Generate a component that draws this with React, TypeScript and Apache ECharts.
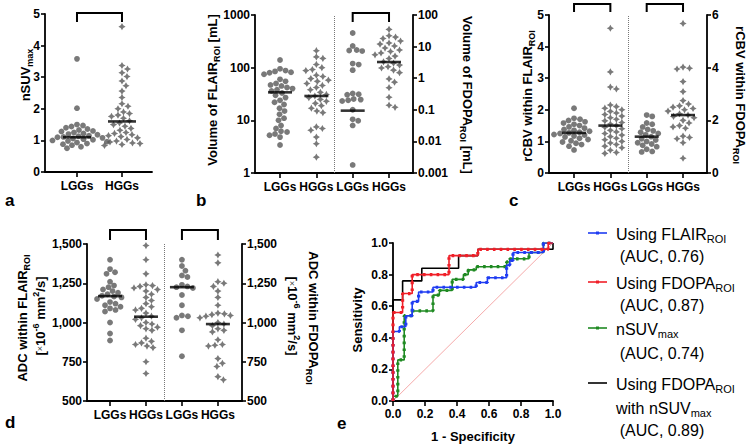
import React, { useEffect, useRef } from 'react';
import * as echarts from 'echarts';

const FONT = '"Liberation Sans", Arial, Helvetica, sans-serif';
const GRAY = '#585858';
const GROUPS = ['LGGs', 'HGGs'];

// Panel a: nSUVmax
const aLGG = [3.58, 2.02, 1.5, 1.47, 1.44, 1.4, 1.36, 1.33, 1.3, 1.28, 1.25, 1.22, 1.2, 1.18, 1.15, 1.13, 1.11, 1.1, 1.08, 1.06, 1.04, 1.02, 1.0, 0.98, 0.96, 0.93, 0.9, 0.88, 0.85, 0.8, 0.75];
const aHGG = [4.6, 3.37, 3.26, 3.14, 3.02, 2.88, 2.73, 2.56, 2.36, 2.16, 2.08, 2.0, 1.9, 1.85, 1.8, 1.76, 1.7, 1.62, 1.55, 1.5, 1.45, 1.38, 1.32, 1.25, 1.22, 1.18, 1.15, 1.12, 1.08, 1.03, 0.98, 0.95, 0.92, 0.9, 0.87, 0.84];
const aMedians = [1.1, 1.6];

// Panel b: volumes (FLAIR left axis, FDOPA right axis)
const bLGG1 = [140, 95, 88, 85, 82, 80, 75, 60, 55, 50, 47, 45, 42, 40, 38, 36, 33, 30, 27, 24, 22, 20, 17, 15, 13, 11, 10, 8, 7, 6.2, 6, 5.5, 5.2, 4.8, 3.4];
const bHGG1 = [210, 160, 150, 115, 100, 92, 88, 72, 68, 62, 58, 55, 50, 46, 42, 38, 34, 31, 29, 27, 25, 23, 21, 19, 17, 15, 14, 7.5, 7, 6.5, 4.8, 3.6, 2.0];
const bLGG2 = [27, 10.5, 7.8, 7.5, 7.2, 2.9, 2.7, 1.8, 0.33, 0.31, 0.3, 0.22, 0.21, 0.2, 0.19, 0.1, 0.05, 0.045, 0.032, 0.0018];
const bHGG2 = [35, 22, 20, 18, 15, 13, 12, 10.5, 9, 7.8, 7, 6.3, 5.5, 5, 4.2, 3.3, 3.0, 2.6, 2.3, 2.1, 1.8, 1.5, 0.95, 0.75, 0.5, 0.25, 0.14, 0.12];
const bMedians = [34, 29, 0.094, 3.25];

// Panel c: rCBV
const cLGG1 = [2.05, 1.73, 1.7, 1.66, 1.62, 1.58, 1.54, 1.5, 1.46, 1.42, 1.38, 1.35, 1.32, 1.29, 1.27, 1.25, 1.22, 1.2, 1.17, 1.14, 1.1, 1.06, 1.02, 0.98, 0.94, 0.9, 0.85, 0.73];
const cHGG1 = [4.58, 3.2, 2.72, 2.66, 2.15, 2.1, 2.05, 2.0, 1.95, 1.9, 1.85, 1.8, 1.75, 1.7, 1.65, 1.6, 1.55, 1.5, 1.45, 1.4, 1.35, 1.3, 1.25, 1.2, 1.15, 1.1, 1.05, 1.0, 0.95, 0.9, 0.85, 0.8, 0.72, 0.65, 0.62];
const cLGG2 = [2.2, 2.15, 1.9, 1.85, 1.75, 1.65, 1.6, 1.55, 1.5, 1.45, 1.38, 1.3, 1.25, 1.2, 1.15, 1.1, 1.05, 1.0, 0.9, 0.82, 0.8];
const cHGG2 = [5.68, 4.02, 3.98, 3.95, 3.47, 3.09, 2.75, 2.62, 2.55, 2.5, 2.45, 2.4, 2.35, 2.25, 2.2, 2.15, 2.1, 2.0, 1.9, 1.8, 1.75, 1.7, 1.4, 1.35, 1.3, 1.15, 0.56];
const cMedians = [1.27, 1.5, 1.38, 2.2];

// Panel d: ADC
const dLGG1 = [1400, 1340, 1320, 1310, 1260, 1235, 1225, 1210, 1200, 1190, 1180, 1170, 1165, 1160, 1150, 1130, 1120, 1110, 1100, 1090, 1080, 1070, 1000, 930, 885];
const dHGG1 = [1490, 1400, 1310, 1240, 1235, 1230, 1220, 1210, 1200, 1180, 1160, 1140, 1120, 1100, 1090, 1080, 1060, 1040, 1030, 1020, 1000, 990, 980, 970, 960, 950, 900, 880, 870, 860, 850, 840, 750, 675];
const dLGG2 = [1400, 1360, 1330, 1300, 1290, 1240, 1230, 1225, 1220, 1175, 1110, 1045, 1040, 1030, 950, 785];
const dHGG2 = [1430, 1380, 1260, 1250, 1230, 1200, 1160, 1110, 1060, 1055, 1050, 1045, 1040, 1030, 1000, 990, 980, 960, 950, 940, 890, 860, 855, 850, 770, 740, 720, 655, 635];
const dMedians = [1168, 1037, 1225, 990];

// Panel e: ROC curves [1 - specificity, sensitivity]
const rocFlair = [[0, 0], [0, 0.44], [0.04, 0.44], [0.04, 0.47], [0.08, 0.47], [0.08, 0.54], [0.12, 0.54], [0.12, 0.63], [0.16, 0.63], [0.16, 0.69], [0.25, 0.69], [0.25, 0.72], [0.52, 0.72], [0.52, 0.75], [0.59, 0.75], [0.59, 0.78], [0.71, 0.78], [0.71, 0.86], [0.73, 0.86], [0.73, 0.89], [0.75, 0.89], [0.75, 0.94], [0.94, 0.94], [0.94, 1], [1, 1]];
const rocFdopa = [[0, 0], [0, 0.56], [0.06, 0.56], [0.06, 0.68], [0.12, 0.68], [0.12, 0.8], [0.35, 0.8], [0.35, 0.92], [0.53, 0.92], [0.53, 0.96], [0.97, 0.96], [0.97, 1], [1, 1]];
const rocSuv = [[0, 0], [0, 0.03], [0.03, 0.03], [0.03, 0.26], [0.07, 0.26], [0.07, 0.54], [0.12, 0.54], [0.12, 0.57], [0.25, 0.57], [0.25, 0.67], [0.29, 0.67], [0.29, 0.7], [0.37, 0.7], [0.37, 0.77], [0.44, 0.77], [0.44, 0.8], [0.47, 0.8], [0.47, 0.83], [0.52, 0.83], [0.52, 0.85], [0.71, 0.85], [0.71, 0.88], [0.73, 0.88], [0.73, 0.9], [0.85, 0.9], [0.85, 0.94], [0.94, 0.94], [0.94, 1], [1, 1]];
const rocCombined = [[0, 0], [0, 0.64], [0.06, 0.64], [0.06, 0.76], [0.18, 0.76], [0.18, 0.84], [0.41, 0.84], [0.41, 0.92], [0.53, 0.92], [0.53, 0.96], [1, 0.96], [1, 1]];
const rocChance = [[0, 0], [1, 1]];

const BLUE = '#1f3cf2';
const RED = '#f01f28';
const GREEN = '#1f8a22';

const STAR = 'path://M0,-10L3.6,-3.6L10,0L3.6,3.6L0,10L-3.6,3.6L-10,0L-3.6,-3.6Z';

// beeswarm layout: offsets (category units) so that markers don't overlap
function swarm(values: number[], toPx: (v: number) => number, pxPerCat: number, d: number): number[] {
  const order = values.map((_, i) => i).sort((p, q) => values[q] - values[p]);
  const placed: { x: number; y: number }[] = [];
  const off = new Array(values.length).fill(0);
  for (const i of order) {
    const y = toPx(values[i]);
    let best = 0;
    for (let k = 0; k < 400; k++) {
      const cand = (k % 2 === 1 ? 1 : -1) * Math.ceil(k / 2) * 0.5;
      if (placed.every((p) => (p.x - cand) ** 2 + (p.y - y) ** 2 >= d * d)) {
        best = cand;
        break;
      }
    }
    placed.push({ x: best, y });
    off[i] = best / pxPerCat;
  }
  return off;
}

const lin = (ppu: number) => (v: number) => v * ppu;
const logs = (ppd: number) => (v: number) => Math.log10(v) * ppd;

function dots(values: number[], cat: number, xi: number, yi: number, toPx: (v: number) => number, ppc: number, circle: boolean) {
  const off = swarm(values, toPx, ppc, circle ? 5.6 : 6.2);
  return {
    type: 'scatter', xAxisIndex: xi, yAxisIndex: yi, silent: true, z: 2,
    symbol: circle ? 'circle' : STAR, symbolSize: circle ? 5.8 : 7.2,
    itemStyle: { color: GRAY },
    data: values.map((v, i) => [cat + off[i], v]),
  };
}

function median(cat: number, m: number, xi: number, yi: number, w: number) {
  return {
    type: 'scatter', xAxisIndex: xi, yAxisIndex: yi, silent: true, z: 5,
    symbol: 'rect', symbolSize: [w, 2.6], itemStyle: { color: '#000' },
    data: [[cat, m]],
  };
}

function sep(xi: number, yi: number) {
  return {
    type: 'line', xAxisIndex: xi, yAxisIndex: yi, data: [], silent: true,
    markLine: {
      silent: true, symbol: 'none', label: { show: false },
      lineStyle: { type: 'dotted', color: '#777', width: 1 },
      data: [{ xAxis: 1.5 }],
    },
  };
}

const axisLineStyle = { show: true, onZero: false, lineStyle: { color: '#000', width: 1.8 } };
const tickStyle = { show: true, length: 4, lineStyle: { color: '#000', width: 1.6 } };
const labelStyle = { color: '#000', fontFamily: FONT, fontWeight: 'bold', fontSize: 12 };

function catX(grid: number, min: number, max: number, n: number) {
  const vals = Array.from({ length: n }, (_, i) => i);
  return {
    type: 'value', gridIndex: grid, min, max, position: 'bottom',
    axisLine: axisLineStyle,
    axisTick: { ...tickStyle, length: 5, customValues: vals },
    axisLabel: { ...labelStyle, margin: 8, customValues: vals, formatter: (v: number) => GROUPS[Math.round(v) % 2] },
    splitLine: { show: false },
  };
}

const logFmt = (v: number) => String(Number(v.toPrecision(4)));

function yVal(grid: number, pos: string, min: number, max: number, interval: number, fmt?: (v: number) => string) {
  return {
    type: 'value', gridIndex: grid, position: pos, min, max, interval,
    axisLine: axisLineStyle, axisTick: tickStyle,
    axisLabel: { ...labelStyle, margin: 5, ...(fmt ? { formatter: fmt } : {}) },
    splitLine: { show: false },
  };
}
function yLog(grid: number, pos: string, min: number, max: number, split: number) {
  return {
    type: 'log', logBase: 10, gridIndex: grid, position: pos, min, max, splitNumber: split,
    axisLine: axisLineStyle, axisTick: tickStyle,
    axisLabel: { ...labelStyle, margin: 5, formatter: logFmt },
    splitLine: { show: false }, minorTick: { show: false },
  };
}

const richBase = {
  b: { fontFamily: FONT, fontWeight: 'bold', fontSize: 13, lineHeight: 18, fill: '#000' },
  s: { fontFamily: FONT, fontWeight: 'bold', fontSize: 9, lineHeight: 9, verticalAlign: 'bottom', fill: '#000' },
  p: { fontFamily: FONT, fontWeight: 'bold', fontSize: 9, lineHeight: 9, verticalAlign: 'top', fill: '#000' },
  x: { fontFamily: FONT, fontWeight: 'normal', fontSize: 9, lineHeight: 18, fill: '#333' },
};
const richLegend = {
  n: { fontFamily: FONT, fontSize: 16, lineHeight: 20, fill: '#000' },
  s: { fontFamily: FONT, fontSize: 11, lineHeight: 10, verticalAlign: 'bottom', fill: '#000' },
};

function title(text: string, x: number, y: number, rot: number, rich = richBase) {
  return {
    type: 'text', x, y, rotation: rot, silent: true,
    style: { text, rich, align: 'center', verticalAlign: 'middle' },
  };
}
function letter(t: string, x: number, y: number) {
  return {
    type: 'text', x, y, silent: true,
    style: { text: t, fontFamily: FONT, fontWeight: 'bold', fontSize: 17, fill: '#000', align: 'left', verticalAlign: 'middle' },
  };
}

export default function App() {
  const ref = useRef<HTMLDivElement>(null);
  useEffect(() => {
    if (!ref.current) return;
    const chart = echarts.init(ref.current, null, { renderer: 'svg' });
    const rocSeries = (data: number[][], color: string, dotted: boolean, z: number) => {
      const s: any[] = [{
        type: 'line', xAxisIndex: 4, yAxisIndex: 7, data, showSymbol: false, silent: true, z,
        lineStyle: { color, width: 1.6 },
      }];
      if (dotted) s.push({
        type: 'line', xAxisIndex: 4, yAxisIndex: 7, data, showSymbol: false, silent: true, z,
        lineStyle: { color, width: 3.2, type: [2.6, 4.2], cap: 'butt' },
      });
      return s;
    };
    const option: any = {
      animation: false,
      backgroundColor: '#fff',
      textStyle: { fontFamily: FONT },
      grid: [
        { left: 45, top: 14, width: 107, height: 158 },
        { left: 255, top: 15, width: 158, height: 158 },
        { left: 549, top: 15, width: 158, height: 158 },
        { left: 87, top: 244, width: 155, height: 157 },
        { left: 393, top: 243, width: 160, height: 158 },
      ],
      xAxis: [
        catX(0, -0.711, 1.667, 2),
        catX(1, -0.689, 3.66, 4),
        catX(2, -0.689, 3.66, 4),
        catX(3, -0.64, 3.67, 4),
        {
          type: 'value', gridIndex: 4, min: 0, max: 1, interval: 0.2,
          axisLine: axisLineStyle, axisTick: { ...tickStyle, length: 5 },
          axisLabel: { ...labelStyle, margin: 7, formatter: (v: number) => v.toFixed(1) },
          splitLine: { show: false },
        },
      ],
      yAxis: [
        yVal(0, 'left', 0, 5, 1),
        yLog(1, 'left', 1, 1000, 3),
        yLog(1, 'right', 0.001, 100, 5),
        yVal(2, 'left', 0, 5, 1),
        yVal(2, 'right', 0, 6, 2),
        yVal(3, 'left', 500, 1500, 250, (v: number) => v.toLocaleString('en-US')),
        yVal(3, 'right', 500, 1500, 250, (v: number) => v.toLocaleString('en-US')),
        yVal(4, 'left', 0, 1, 0.2, (v: number) => v.toFixed(1)),
      ],
      series: [
        dots(aLGG, 0, 0, 0, lin(31.6), 45, true),
        dots(aHGG, 1, 0, 0, lin(31.6), 45, false),
        median(0, aMedians[0], 0, 0, 28), median(1, aMedians[1], 0, 0, 28),

        dots(bLGG1, 0, 1, 1, logs(52.67), 36.3, true),
        dots(bHGG1, 1, 1, 1, logs(52.67), 36.3, false),
        dots(bLGG2, 2, 1, 2, logs(31.6), 36.3, true),
        dots(bHGG2, 3, 1, 2, logs(31.6), 36.3, false),
        median(0, bMedians[0], 1, 1, 24), median(1, bMedians[1], 1, 1, 24),
        median(2, bMedians[2], 1, 2, 24), median(3, bMedians[3], 1, 2, 24),
        sep(1, 1),

        dots(cLGG1, 0, 2, 3, lin(31.6), 36.3, true),
        dots(cHGG1, 1, 2, 3, lin(31.6), 36.3, false),
        dots(cLGG2, 2, 2, 4, lin(26.33), 36.3, true),
        dots(cHGG2, 3, 2, 4, lin(26.33), 36.3, false),
        median(0, cMedians[0], 2, 3, 24), median(1, cMedians[1], 2, 3, 24),
        median(2, cMedians[2], 2, 4, 24), median(3, cMedians[3], 2, 4, 24),
        sep(2, 3),

        dots(dLGG1, 0, 3, 5, lin(0.157), 36, true),
        dots(dHGG1, 1, 3, 5, lin(0.157), 36, false),
        dots(dLGG2, 2, 3, 6, lin(0.157), 36, true),
        dots(dHGG2, 3, 3, 6, lin(0.157), 36, false),
        median(0, dMedians[0], 3, 5, 24), median(1, dMedians[1], 3, 5, 24),
        median(2, dMedians[2], 3, 6, 24), median(3, dMedians[3], 3, 6, 24),
        sep(3, 5),

        { type: 'line', xAxisIndex: 4, yAxisIndex: 7, data: rocChance, showSymbol: false, silent: true, z: 1, lineStyle: { color: '#f4a0a0', width: 0.9 } },
        ...rocSeries(rocCombined, '#000', false, 2),
        ...rocSeries(rocSuv, GREEN, true, 3),
        ...rocSeries(rocFlair, BLUE, true, 4),
        ...rocSeries(rocFdopa, RED, true, 5),
      ],
    };
    chart.setOption(option);

    // significance brackets, positioned through the axes
    const brackets = [
      { xi: 0, from: 0, to: 1, top: 13, bottom: 22 },
      { xi: 1, from: 2, to: 3, top: 13, bottom: 22 },
      { xi: 2, from: 0, to: 1, top: 4, bottom: 12 },
      { xi: 2, from: 2, to: 3, top: 4, bottom: 12 },
      { xi: 3, from: 0, to: 1, top: 230, bottom: 240 },
      { xi: 3, from: 2, to: 3, top: 230, bottom: 240 },
    ];
    const graphic: any[] = brackets.map((b) => {
      const x1 = chart.convertToPixel({ xAxisIndex: b.xi } as any, b.from) as number;
      const x2 = chart.convertToPixel({ xAxisIndex: b.xi } as any, b.to) as number;
      return {
        type: 'polyline', silent: true,
        shape: { points: [[x1, b.bottom], [x1, b.top], [x2, b.top], [x2, b.bottom]] },
        style: { stroke: '#000', lineWidth: 2, fill: null },
      };
    });

    graphic.push(
      title('{b|nSUV}{s|max}', 25, 75, Math.PI / 2),
      title('{b|Volume of FLAIR}{s|ROI}{b| [mL]}', 212, 90, Math.PI / 2),
      title('{b|Volume of FDOPA}{s|ROI}{b| [mL]}', 467, 95, -Math.PI / 2),
      title('{b|rCBV within FLAIR}{s|ROI}', 527, 96, Math.PI / 2),
      title('{b|rCBV within FDOPA}{s|ROI}', 740, 95, -Math.PI / 2),
      title('{b|ADC within FLAIR}{s|ROI}', 22, 318, Math.PI / 2),
      title('{b|[}{x|×}{b|10}{p|-6}{b| mm}{p|2}{b|/s]}', 40, 316, Math.PI / 2),
      title('{b|ADC within FDOPA}{s|ROI}', 313, 318, -Math.PI / 2),
      title('{b|[}{x|×}{b|10}{p|-6}{b| mm}{p|2}{b|/s]}', 292, 316, -Math.PI / 2),
      title('{b|Sensitivity}', 357, 320, Math.PI / 2),
      title('{b|1 - Specificity}', 473, 436, 0),
      letter('a', 5, 200), letter('b', 196, 200), letter('c', 509, 200),
      letter('d', 5, 422), letter('e', 337, 423),
    );

    const legendRows = [
      { color: BLUE, dot: true, y: 233 },
      { color: RED, dot: true, y: 282 },
      { color: GREEN, dot: true, y: 328 },
      { color: '#000', dot: false, y: 383 },
    ];
    legendRows.forEach((r) => {
      graphic.push({ type: 'line', silent: true, shape: { x1: 588, y1: r.y, x2: 607, y2: r.y }, style: { stroke: r.color, lineWidth: 1.6 } });
      if (r.dot) graphic.push({ type: 'rect', silent: true, shape: { x: 596, y: r.y - 1.5, width: 3, height: 3 }, style: { fill: r.color } });
    });
    const legendTexts = [
      { t: '{n|Using FLAIR}{s|ROI}', x: 616, y: 234, a: 'left' },
      { t: '{n|(AUC, 0.76)}', x: 662, y: 256, a: 'center' },
      { t: '{n|Using FDOPA}{s|ROI}', x: 616, y: 283, a: 'left' },
      { t: '{n|(AUC, 0.87)}', x: 662, y: 305, a: 'center' },
      { t: '{n|nSUV}{s|max}', x: 616, y: 329, a: 'left' },
      { t: '{n|(AUC, 0.74)}', x: 662, y: 353, a: 'center' },
      { t: '{n|Using FDOPA}{s|ROI}', x: 616, y: 384, a: 'left' },
      { t: '{n|with nSUV}{s|max}', x: 616, y: 408, a: 'left' },
      { t: '{n|(AUC, 0.89)}', x: 662, y: 430, a: 'center' },
    ];
    legendTexts.forEach((l) => graphic.push({
      type: 'text', x: l.x, y: l.y, silent: true,
      style: { text: l.t, rich: richLegend, align: l.a, verticalAlign: 'middle' },
    }));

    chart.setOption({ graphic });
    return () => chart.dispose();
  }, []);
  return <div ref={ref} style={{ position: 'absolute', left: 0, top: 0, width: 750, height: 446, background: '#fff' }} />;
}
